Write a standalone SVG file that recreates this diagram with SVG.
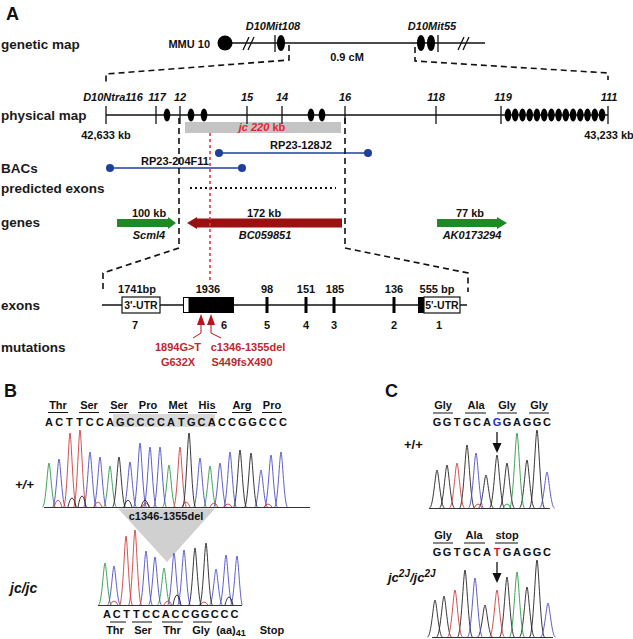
<svg xmlns="http://www.w3.org/2000/svg" width="633" height="639" viewBox="0 0 633 639">
<style>
text{font-family:"Liberation Sans",Arial,sans-serif;fill:#111}
.lab{font-size:13.5px;font-weight:bold;fill:#1a1a1a}
.b{font-weight:bold;font-size:11px}
.bi{font-weight:bold;font-style:italic;font-size:11px}
.pan{font-weight:bold;font-size:18px}
.m{text-anchor:middle}
.ln{stroke:#111;stroke-width:1.3;fill:none}
.dash{stroke:#111;stroke-width:1.6;fill:none;stroke-dasharray:6 4}
.seq{font-weight:bold;font-size:11px;text-anchor:middle}
.tr{fill:none;stroke-width:0.9}
.g{stroke:#2a9a48}.c{stroke:#4c4cc8}.t{stroke:#d23c3c}.k{stroke:#222}
.red{fill:#c0272d}
</style>
<defs>
<ellipse id="el" cx="0" cy="0" rx="3.3" ry="6.5" fill="#000"/>
</defs>

<text class="pan" x="6" y="20">A</text>

<!-- row labels -->
<g id="rowlabels">
<text class="lab" x="1" y="49">genetic map</text>
<text class="lab" x="1" y="120">physical map</text>
<text class="lab" x="1" y="173">BACs</text>
<text class="lab" x="1" y="193">predicted exons</text>
<text class="lab" x="1" y="227">genes</text>
<text class="lab" x="1" y="310">exons</text>
<text class="lab" x="1" y="352">mutations</text>
</g>

<!-- genetic map -->
<g id="genetic-map">
<text class="b" x="210" y="48" text-anchor="end">MMU 10</text>
<line class="ln" x1="225" y1="43" x2="485" y2="43"/>
<circle cx="225" cy="43" r="7.5" fill="#000"/>
<line class="ln" x1="243" y1="50" x2="249" y2="37"/>
<line class="ln" x1="248" y1="50" x2="254" y2="37"/>
<line class="ln" x1="458" y1="50" x2="464" y2="37"/>
<line class="ln" x1="463" y1="50" x2="469" y2="37"/>
<line class="ln" x1="275" y1="35" x2="275" y2="52"/>
<ellipse cx="281" cy="43" rx="4" ry="8" fill="#000"/>
<ellipse cx="421" cy="43" rx="4" ry="8" fill="#000"/>
<ellipse cx="431" cy="43" rx="4" ry="8" fill="#000"/>
<line class="ln" x1="438" y1="35" x2="438" y2="52"/>
<text class="bi m" x="273" y="30">D10Mit108</text>
<text class="bi m" x="432" y="30">D10Mit55</text>
<text class="b m" x="347" y="61">0.9 cM</text>
</g>

<!-- physical map -->
<g id="physical-map">
<rect x="185" y="122" width="156" height="11" fill="#c4c4c4"/>
<text class="m" x="262" y="131" style="font-size:11px;font-weight:bold;fill:#e3262e"><tspan font-style="italic" style="fill:#e3262e">jc 220</tspan> kb</text>
<line class="ln" x1="106" y1="115" x2="608" y2="115"/>
<g class="ln">
<line x1="106" y1="106" x2="106" y2="124"/>
<line x1="156" y1="106" x2="156" y2="124"/>
<line x1="180" y1="106" x2="180" y2="124"/>
<line x1="247" y1="106" x2="247" y2="124"/>
<line x1="282" y1="106" x2="282" y2="124"/>
<line x1="345" y1="106" x2="345" y2="124"/>
<line x1="436" y1="106" x2="436" y2="124"/>
<line x1="501" y1="106" x2="501" y2="124"/>
<line x1="608" y1="106" x2="608" y2="124"/>
</g>
<use href="#el" x="167" y="115"/>
<use href="#el" x="191" y="115"/>
<use href="#el" x="204" y="115"/>
<use href="#el" x="311" y="115"/>
<use href="#el" x="322" y="115"/>
<use href="#el" x="508" y="115"/><use href="#el" x="515.2" y="115"/><use href="#el" x="522.5" y="115"/><use href="#el" x="529.7" y="115"/><use href="#el" x="536.9" y="115"/><use href="#el" x="544.2" y="115"/><use href="#el" x="551.4" y="115"/><use href="#el" x="558.6" y="115"/><use href="#el" x="565.8" y="115"/><use href="#el" x="573.1" y="115"/><use href="#el" x="580.3" y="115"/><use href="#el" x="587.5" y="115"/><use href="#el" x="594.8" y="115"/><use href="#el" x="602" y="115"/>
<text class="bi m" x="113" y="101">D10Ntra116</text>
<text class="bi m" x="157" y="101">117</text>
<text class="bi m" x="180" y="101">12</text>
<text class="bi m" x="247" y="101">15</text>
<text class="bi m" x="282" y="101">14</text>
<text class="bi m" x="345" y="101">16</text>
<text class="bi m" x="436" y="101">118</text>
<text class="bi m" x="503" y="101">119</text>
<text class="bi m" x="609" y="101">111</text>
<text class="b m" x="106" y="139">42,633 kb</text>
<text class="b m" x="609" y="139">43,233 kb</text>
</g>

<!-- BACs -->
<g id="bacs">
<line x1="219" y1="153" x2="368" y2="153" stroke="#1f3f9e" stroke-width="1.5"/>
<circle cx="219" cy="153" r="4" fill="#1f3f9e"/>
<circle cx="368" cy="153" r="4" fill="#1f3f9e"/>
<text class="b m" x="301" y="149">RP23-128J2</text>
<line x1="110" y1="168" x2="242" y2="168" stroke="#1f3f9e" stroke-width="1.5"/>
<circle cx="110" cy="168" r="4" fill="#1f3f9e"/>
<circle cx="242" cy="168" r="4" fill="#1f3f9e"/>
<text class="b m" x="175" y="165">RP23-204F11</text>
</g>

<!-- predicted exons -->
<line x1="190" y1="188" x2="336" y2="188" stroke="#111" stroke-width="2" stroke-dasharray="2 3"/>

<!-- genes -->
<g id="genes">
<polygon points="117,219 168,219 168,217 176,223 168,229 168,227 117,227" fill="#1d8a26"/>
<polygon points="187,223 197,217 197,218.5 342,218.5 342,227.5 197,227.5 197,229" fill="#9b1010"/>
<polygon points="437,219 497,219 497,217 507,223 497,229 497,227 437,227" fill="#1d8a26"/>
<text class="b m" x="149" y="217">100 kb</text>
<text class="b m" x="264" y="217">172 kb</text>
<text class="b m" x="470" y="217">77 kb</text>
<text class="bi m" x="149" y="239">Scml4</text>
<text class="bi m" x="265" y="239">BC059851</text>
<text class="bi m" x="472" y="239">AK0173294</text>
</g>

<!-- connectors: zoom brackets -->
<g id="connectors">
<polyline class="dash" points="289,45 289,60 106,74 106,82"/>
<polyline class="dash" points="415,47 415,61 608,73 608,80"/>
<polyline class="dash" points="179,118 179,248 103,273 103,292"/>
<polyline class="dash" points="345,118 345,248 468,273 468,292"/>
<line x1="210" y1="133" x2="210" y2="281" stroke="#e03a3a" stroke-width="1.6" stroke-dasharray="3 3"/>
</g>

<!-- exons -->
<g id="exons">
<line class="ln" x1="102" y1="305" x2="467" y2="305"/>
<rect x="122" y="297" width="38" height="16" fill="#fff" stroke="#111" stroke-width="1.2"/>
<text class="m" x="141" y="309" style="font-size:10.5px;font-weight:bold">3'-UTR</text>
<rect x="183" y="297" width="51" height="16" fill="#000"/>
<rect x="184" y="298" width="4.5" height="14" fill="#fff"/>
<rect x="265.5" y="297" width="3" height="16" fill="#000"/>
<rect x="304.5" y="297" width="3" height="16" fill="#000"/>
<rect x="332.5" y="297" width="3" height="16" fill="#000"/>
<rect x="392.5" y="297" width="3" height="16" fill="#000"/>
<rect x="418" y="297" width="7" height="16" fill="#000"/>
<rect x="424" y="297" width="36" height="16" fill="#fff" stroke="#111" stroke-width="1.2"/>
<text class="m" x="442" y="309" style="font-size:10.5px;font-weight:bold">5'-UTR</text>
<text class="b m" x="137" y="293">1741bp</text>
<text class="b m" x="208" y="293">1936</text>
<text class="b m" x="267" y="293">98</text>
<text class="b m" x="306" y="293">151</text>
<text class="b m" x="335" y="293">185</text>
<text class="b m" x="394" y="293">136</text>
<text class="b m" x="437" y="293">555 bp</text>
<text class="b m" x="135" y="329">7</text>
<text class="b m" x="224" y="329">6</text>
<text class="b m" x="267" y="329">5</text>
<text class="b m" x="306" y="329">4</text>
<text class="b m" x="334" y="329">3</text>
<text class="b m" x="394" y="329">2</text>
<text class="b m" x="439" y="329">1</text>
</g>

<!-- mutations -->
<g id="mutations">
<polygon points="201,314 197,325 205,325" fill="#b8141c"/>
<polygon points="211,314 207,325 215,325" fill="#b8141c"/>
<polyline points="201,325 201,333 193,338" fill="none" stroke="#b8141c" stroke-width="1"/>
<polyline points="211,325 211,333 221,338" fill="none" stroke="#b8141c" stroke-width="1"/>
<text class="b m red" x="178" y="351">1894G&gt;T</text>
<text class="b m red" x="178" y="366">G632X</text>
<text class="b m red" x="248" y="351">c1346-1355del</text>
<text class="b m red" x="242" y="366">S449fsX490</text>
</g>

<!-- Panel B -->
<text class="pan" x="4" y="397">B</text>
<g id="b-wt">
<rect x="113" y="414" width="102" height="13" fill="#d9d9d9"/>
<g class="seq">
<text x="58" y="409">Thr</text><text x="89" y="409">Ser</text><text x="119" y="409">Ser</text><text x="148" y="409">Pro</text><text x="178" y="409">Met</text><text x="207" y="409">His</text><text x="242" y="409">Arg</text><text x="272" y="409">Pro</text>
</g>
<g stroke="#111" stroke-width="1">
<line x1="48" y1="412.5" x2="68" y2="412.5"/><line x1="79" y1="412.5" x2="99" y2="412.5"/><line x1="109" y1="412.5" x2="129" y2="412.5"/><line x1="138" y1="412.5" x2="158" y2="412.5"/><line x1="168" y1="412.5" x2="188" y2="412.5"/><line x1="198" y1="412.5" x2="217" y2="412.5"/><line x1="232" y1="412.5" x2="252" y2="412.5"/><line x1="262" y1="412.5" x2="282" y2="412.5"/>
</g>
<text class="seq" x="49 59.2 69.3 79.5 89.7 99.9 110 120.2 130.4 140.6 150.7 160.9 171.1 181.3 191.4 201.6 211.8 222 232.1 242.3 252.5 262.7 272.8 283" y="426">ACTTCCAGCCCCATGCACCGGCCC</text>
<text x="15" y="489" style="font-weight:bold;font-style:italic;font-size:13px">+/+</text>
<path class="tr g" d="M42.5,507 C45.75,507 47.7,463 49,463 C50.3,463 52.25,507 55.5,507 M103.5,507 C106.75,507 108.7,466 110,466 C111.3,466 113.25,507 116.5,507 M162.5,507 C165.75,507 167.7,465 169,465 C170.3,465 172.25,507 175.5,507 M203.5,507 C206.75,507 208.7,466 210,466 C211.3,466 213.25,507 216.5,507"/>
<path class="tr c" d="M52.5,507 C55.75,507 57.7,459 59,459 C60.3,459 62.25,507 65.5,507 M83.5,507 C86.75,507 88.7,452 90,452 C91.3,452 93.25,507 96.5,507 M93.5,507 C96.75,507 98.7,457 100,457 C101.3,457 103.25,507 106.5,507 M123.5,507 C126.75,507 128.7,462 130,462 C131.3,462 133.25,507 136.5,507 M133.5,507 C136.75,507 138.7,443 140,443 C141.3,443 143.25,507 146.5,507 M143.5,507 C146.75,507 148.7,447 150,447 C151.3,447 153.25,507 156.5,507 M153.5,507 C156.75,507 158.7,447 160,447 C161.3,447 163.25,507 166.5,507 M193.5,507 C196.75,507 198.7,458 200,458 C201.3,458 203.25,507 206.5,507 M213.5,507 C216.75,507 218.7,463 220,463 C221.3,463 223.25,507 226.5,507 M223.5,507 C226.75,507 228.7,452 230,452 C231.3,452 233.25,507 236.5,507 M254.5,507 C257.75,507 259.7,470 261,470 C262.3,470 264.25,507 267.5,507 M264.5,507 C267.75,507 269.7,455 271,455 C272.3,455 274.25,507 277.5,507 M274.5,507 C277.75,507 279.7,452 281,452 C282.3,452 284.25,507 287.5,507"/>
<path class="tr t" d="M63.5,507 C66.75,507 68.7,433 70,433 C71.3,433 73.25,507 76.5,507 M73.5,507 C76.75,507 78.7,430 80,430 C81.3,430 83.25,507 86.5,507 M173.5,507 C176.75,507 178.7,447 180,447 C181.3,447 183.25,507 186.5,507 M54,507 Q58,493 62,507 M94,507 Q98,497 102,507 M142,507 Q146,499 150,507 M182,507 Q186,497 190,507 M210,507 Q214,499 218,507 M224,507 Q228,501 232,507 M264,507 Q268,501 272,507"/>
<path class="tr k" d="M112.5,507 C115.75,507 117.7,457 119,457 C120.3,457 122.25,507 125.5,507 M182.5,507 C185.75,507 187.7,433 189,433 C190.3,433 192.25,507 195.5,507 M233.5,507 C236.75,507 238.7,450 240,450 C241.3,450 243.25,507 246.5,507 M244.5,507 C247.75,507 249.7,453 251,453 C252.3,453 254.25,507 257.5,507 M68,507 Q72,489 76,507 M78,507 Q82,485 86,507 M124,507 Q128,493 132,507 M141,507 Q145,493 149,507"/>
<line x1="44" y1="507.5" x2="310" y2="507.5" stroke="#333" stroke-width="1.2"/>
</g>
<g id="b-deletion">
<polygon points="118,508.5 215,508.5 167,562" fill="#d0d0d0"/>
<text class="b m" x="166" y="520">c1346-1355del</text>
</g>
<g id="b-mut">
<text x="10" y="593" style="font-weight:bold;font-style:italic;font-size:14px">jc/jc</text>
<path class="tr g" d="M98.5,605 C101.75,605 103.7,563 105,563 C106.3,563 108.25,605 111.5,605 M157.5,605 C160.75,605 162.7,568 164,568 C165.3,568 167.25,605 170.5,605"/>
<path class="tr c" d="M107.5,605 C110.75,605 112.7,566 114,566 C115.3,566 117.25,605 120.5,605 M139.5,605 C142.75,605 144.7,551 146,551 C147.3,551 149.25,605 152.5,605 M148.5,605 C151.75,605 153.7,557 155,557 C156.3,557 158.25,605 161.5,605 M167.5,605 C170.75,605 172.7,553 174,553 C175.3,553 177.25,605 180.5,605 M177.5,605 C180.75,605 182.7,550 184,550 C185.3,550 187.25,605 190.5,605 M209.5,605 C212.75,605 214.7,569 216,569 C217.3,569 219.25,605 222.5,605 M219.5,605 C222.75,605 224.7,555 226,555 C227.3,555 229.25,605 232.5,605 M230.5,605 C233.75,605 235.7,556 237,556 C238.3,556 240.25,605 242.5,605"/>
<path class="tr t" d="M119.5,605 C122.75,605 124.7,536 126,536 C127.3,536 129.25,605 132.5,605 M128.5,605 C131.75,605 133.7,530 135,530 C136.3,530 138.25,605 141.5,605 M110,605 Q114,597 118,605 M164,605 Q168,597 172,605 M200,605 Q204,599 208,605"/>
<path class="tr k" d="M188.5,605 C191.75,605 193.7,548 195,548 C196.3,548 198.25,605 201.5,605 M199.5,605 C202.75,605 204.7,543 206,543 C207.3,543 209.25,605 212.5,605 M173,605 Q177,585 181,605 M225,605 Q229,589 233,605"/>
<line x1="98" y1="605.5" x2="242" y2="605.5" stroke="#333" stroke-width="1.2"/>
<text class="seq" x="107 116.8 126.6 136.4 146.2 156 165.8 175.6 185.4 195.2 205 214.8 224.6 234.4" y="618">ACTTCCACCGGCCC</text>
<g stroke="#111" stroke-width="1">
<line x1="110" y1="622" x2="126" y2="622"/><line x1="132" y1="622" x2="152" y2="622"/><line x1="162" y1="622" x2="183" y2="622"/><line x1="193" y1="622" x2="212" y2="622"/>
</g>
<g class="seq">
<text x="115" y="634">Thr</text><text x="143" y="634">Ser</text><text x="172" y="634">Thr</text><text x="201" y="634">Gly</text><text x="231" y="634">(aa)<tspan dy="2" style="font-size:9px">41</tspan></text><text x="272" y="634">Stop</text>
</g>
</g>

<!-- Panel C -->
<text class="pan" x="385" y="397">C</text>
<g id="c-wt">
<g class="seq">
<text x="443" y="409">Gly</text><text x="476" y="409">Ala</text><text x="507" y="409">Gly</text><text x="539" y="409">Gly</text>
</g>
<g stroke="#111" stroke-width="1">
<line x1="433" y1="413" x2="453" y2="413"/><line x1="465" y1="413" x2="486" y2="413"/><line x1="497" y1="413" x2="517" y2="413"/><line x1="529" y1="413" x2="549" y2="413"/>
</g>
<text class="seq" y="426"><tspan x="437">G</tspan><tspan x="447">G</tspan><tspan x="457">T</tspan><tspan x="467">G</tspan><tspan x="477">C</tspan><tspan x="487">A</tspan><tspan x="497" style="fill:#2b2bd0">G</tspan><tspan x="507">G</tspan><tspan x="517">A</tspan><tspan x="527">G</tspan><tspan x="537">G</tspan><tspan x="547">C</tspan></text>
<text x="404" y="449" style="font-weight:bold;font-size:13px">+/+</text>
<line x1="497" y1="432" x2="497" y2="444" stroke="#111" stroke-width="1.3"/>
<polygon points="492.5,443 501.5,443 497,453" fill="#111"/>
<path class="tr k" d="M429.5,508 C433.25,508 435.5,470 437,470 C438.5,470 440.75,508 444.5,508 M439.5,508 C443.25,508 445.5,465 447,465 C448.5,465 450.75,508 454.5,508 M459.5,508 C463.25,508 465.5,445 467,445 C468.5,445 470.75,508 474.5,508 M478.5,508 C482.25,508 484.5,475 486,475 C487.5,475 489.75,508 493.5,508 M489.5,508 C493.25,508 495.5,455 497,455 C498.5,455 500.75,508 504.5,508 M499.5,508 C503.25,508 505.5,463 507,463 C508.5,463 510.75,508 514.5,508 M519.5,508 C523.25,508 525.5,460 527,460 C528.5,460 530.75,508 534.5,508 M529.5,508 C533.25,508 535.5,430 537,430 C538.5,430 540.75,508 544.5,508"/>
<path class="tr t" d="M449.5,508 C453.25,508 455.5,463 457,463 C458.5,463 460.75,508 464.5,508 M474,508 Q478,500 482,508"/>
<path class="tr c" d="M468.5,508 C472.25,508 474.5,453 476,453 C477.5,453 479.75,508 483.5,508 M539.5,508 C543.25,508 545.5,472 547,472 C548.5,472 550.75,508 554.5,508"/>
<path class="tr g" d="M509.5,508 C513.25,508 515.5,433 517,433 C518.5,433 520.75,508 524.5,508 M503,508 Q507,500 511,508"/>
<line x1="429" y1="508.5" x2="550" y2="508.5" stroke="#333" stroke-width="1.2"/>
</g>
<g id="c-mut">
<g class="seq">
<text x="443" y="539">Gly</text><text x="474" y="539">Ala</text><text x="507" y="539">stop</text>
</g>
<g stroke="#111" stroke-width="1">
<line x1="433" y1="543" x2="453" y2="543"/><line x1="464" y1="543" x2="485" y2="543"/><line x1="495" y1="543" x2="518" y2="543"/>
</g>
<text class="seq" y="556"><tspan x="437">G</tspan><tspan x="447">G</tspan><tspan x="457">T</tspan><tspan x="467">G</tspan><tspan x="477">C</tspan><tspan x="487">A</tspan><tspan x="497" style="fill:#d02020">T</tspan><tspan x="507">G</tspan><tspan x="517">A</tspan><tspan x="527">G</tspan><tspan x="537">G</tspan><tspan x="547">C</tspan></text>
<text x="388" y="582" style="font-weight:bold;font-style:italic;font-size:13px">jc<tspan dy="-5" style="font-size:10px">2J</tspan><tspan dy="5">/jc</tspan><tspan dy="-5" style="font-size:10px">2J</tspan></text>
<line x1="497" y1="562" x2="497" y2="574" stroke="#111" stroke-width="1.3"/>
<polygon points="492.5,573 501.5,573 497,583" fill="#111"/>
<path class="tr k" d="M427.5,637 C431.25,637 433.5,600 435,600 C436.5,600 438.75,637 442.5,637 M436.5,637 C440.25,637 442.5,596 444,596 C445.5,596 447.75,637 451.5,637 M457.5,637 C461.25,637 463.5,570 465,570 C466.5,570 468.75,637 472.5,637 M477.5,637 C481.25,637 483.5,605 485,605 C486.5,605 488.75,637 492.5,637 M499.5,637 C503.25,637 505.5,577 507,577 C508.5,577 510.75,637 514.5,637 M519.5,637 C523.25,637 525.5,587 527,587 C528.5,587 530.75,637 534.5,637 M529.5,637 C533.25,637 535.5,560 537,560 C538.5,560 540.75,637 544.5,637"/>
<path class="tr t" d="M447.5,637 C451.25,637 453.5,590 455,590 C456.5,590 458.75,637 462.5,637 M489.5,637 C493.25,637 495.5,590 497,590 C498.5,590 500.75,637 504.5,637"/>
<path class="tr c" d="M467.5,637 C471.25,637 473.5,578 475,578 C476.5,578 478.75,637 482.5,637 M540.5,637 C544.25,637 546.5,603 548,603 C549.5,603 551.75,637 555.5,637"/>
<path class="tr g" d="M509.5,637 C513.25,637 515.5,572 517,572 C518.5,572 520.75,637 524.5,637"/>
<line x1="432" y1="637.5" x2="553" y2="637.5" stroke="#333" stroke-width="1.2"/>
</g>
</svg>
